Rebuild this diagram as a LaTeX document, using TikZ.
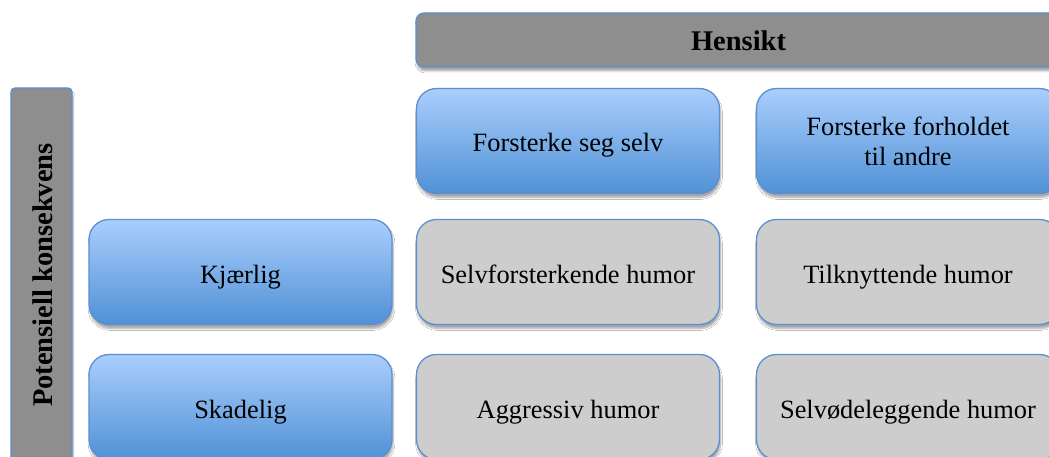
\documentclass[tikz,border=0pt]{standalone}
\usepackage{fontspec}
\setmainfont{Liberation Serif}
\usetikzlibrary{shadows.blur}

\definecolor{edgeblue}{RGB}{92,143,210}
\definecolor{lightblue}{RGB}{170,206,252}
\definecolor{deepblue}{RGB}{80,145,214}
\definecolor{cellgray}{RGB}{205,205,205}
\definecolor{headgray}{RGB}{142,142,142}

\tikzset{
  softshadow/.style={blur shadow={shadow xshift=1pt, shadow yshift=-4pt,
    shadow opacity=35, shadow blur steps=6}},
  cell/.style={draw=edgeblue, line width=1.3pt, rounded corners=20pt,
    minimum width=303pt, minimum height=105pt, inner sep=0pt,
    align=center, font=\fontsize{26.4}{30}\selectfont, softshadow},
  oneline/.style={text height=24pt, text depth=2pt},
  bluecell/.style={cell, top color=lightblue, bottom color=deepblue},
  graycell/.style={cell, oneline, fill=cellgray},
  headbar/.style={draw=edgeblue, line width=1.3pt, fill=headgray, inner sep=0pt,
    text height=24pt, text depth=2pt,
    font=\fontsize{28.5}{32}\selectfont\bfseries, softshadow}
}

\begin{document}
\begin{tikzpicture}[x=1pt,y=-1pt]
  \useasboundingbox (0,0) rectangle (1049,457);
  \clip (0,0) rectangle (1049,457);
  \fill[white] (0,0) rectangle (1049,457);

  % column header
  \node[headbar, rounded corners=8pt, minimum width=645pt, minimum height=54pt]
    (hensikt) at (738.5,40) {Hensikt};

  % row header, text running upwards
  \node[headbar, rounded corners=4pt, minimum width=374pt, minimum height=61pt,
        rotate=90] (konsekvens) at (41.5,275) {Potensiell konsekvens};

  % intentions
  \node[bluecell, oneline] (selv) at (568,141) {Forsterke seg selv};
  \node[bluecell] (andre) at (908,141) {Forsterke forholdet\\til andre};

  % consequences
  \node[bluecell, oneline] (kjaerlig) at (240.5,272) {Kjærlig};
  \node[bluecell, oneline] (skadelig) at (240.5,407) {Skadelig};

  % humour styles
  \node[graycell] (selvforst) at (568,272) {Selvforsterkende humor};
  \node[graycell] (tilknytt)  at (908,272) {Tilknyttende humor};
  \node[graycell] (aggressiv) at (568,407) {Aggressiv humor};
  \node[graycell] (selvodel)  at (908,407) {Selvødeleggende humor};
\end{tikzpicture}
\end{document}
